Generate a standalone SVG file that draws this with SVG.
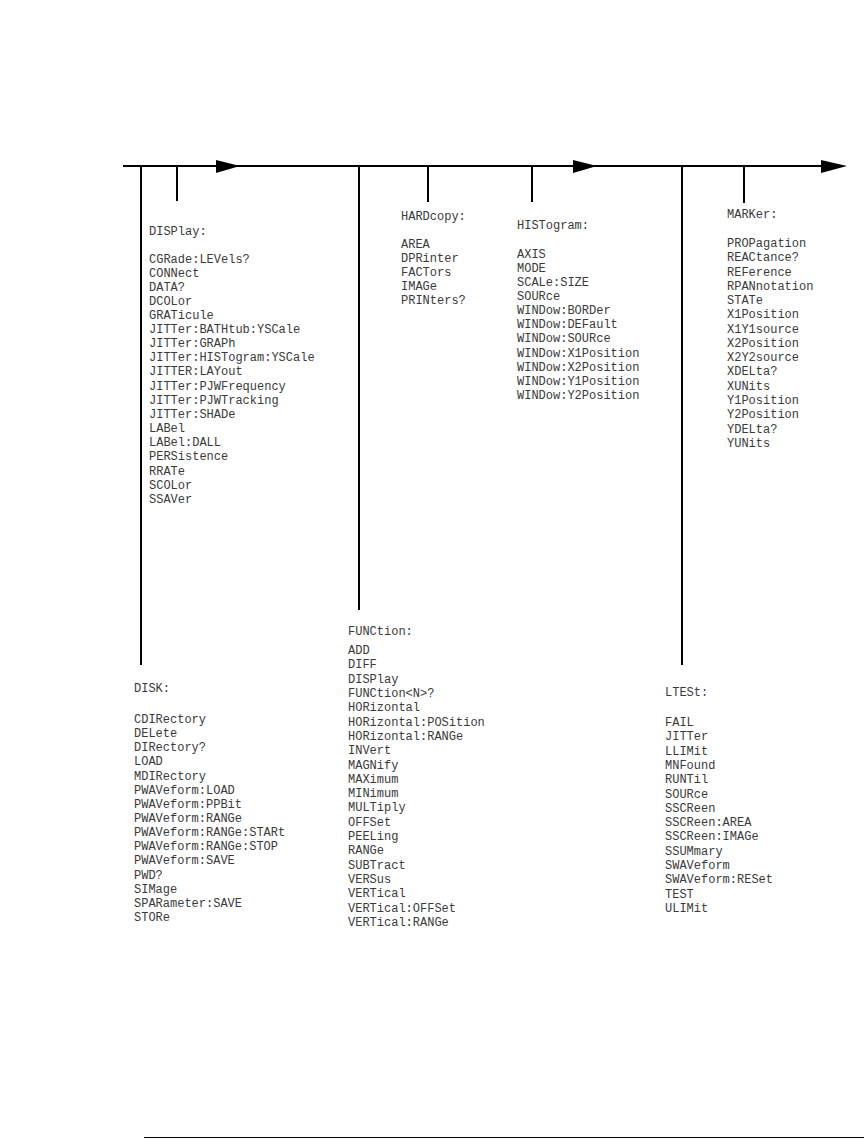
<svg xmlns="http://www.w3.org/2000/svg" width="864" height="1139" viewBox="0 0 864 1139">
<style>
text{font-family:"Liberation Mono","DejaVu Sans Mono",monospace;font-size:12px;fill:#3a3a3a}
.ln{stroke:#000;stroke-width:2;fill:none}
.ah{fill:#000}
</style>
<rect width="864" height="1139" fill="#fff"/>
<g id="connectors">
<line class="ln" x1="123" y1="166" x2="823" y2="166"/>
<polygon class="ah" points="216,160 240,166 216,173"/>
<polygon class="ah" points="573,160 597,166 573,173"/>
<polygon class="ah" points="821,160 847,166 821,173"/>
<line class="ln" x1="141" y1="166" x2="141" y2="665"/>
<line class="ln" x1="177" y1="166" x2="177" y2="201"/>
<line class="ln" x1="359" y1="166" x2="359" y2="610"/>
<line class="ln" x1="428" y1="166" x2="428" y2="202"/>
<line class="ln" x1="532" y1="166" x2="532" y2="202"/>
<line class="ln" x1="682" y1="166" x2="682" y2="665"/>
<line class="ln" x1="744" y1="166" x2="744" y2="203"/>
</g>
<g id="display">
<text x="149" y="235">DISPlay:</text>
<text x="149" y="263">CGRade:LEVels?</text>
<text x="149" y="277">CONNect</text>
<text x="149" y="291">DATA?</text>
<text x="149" y="305">DCOLor</text>
<text x="149" y="319">GRATicule</text>
<text x="149" y="333">JITTer:BATHtub:YSCale</text>
<text x="149" y="347">JITTer:GRAPh</text>
<text x="149" y="361">JITTer:HISTogram:YSCale</text>
<text x="149" y="375">JITTER:LAYout</text>
<text x="149" y="390">JITTer:PJWFrequency</text>
<text x="149" y="404">JITTer:PJWTracking</text>
<text x="149" y="418">JITTer:SHADe</text>
<text x="149" y="432">LABel</text>
<text x="149" y="446">LABel:DALL</text>
<text x="149" y="460">PERSistence</text>
<text x="149" y="475">RRATe</text>
<text x="149" y="489">SCOLor</text>
<text x="149" y="503">SSAVer</text>
</g>
<g id="hardcopy">
<text x="401" y="220">HARDcopy:</text>
<text x="401" y="248">AREA</text>
<text x="401" y="262">DPRinter</text>
<text x="401" y="276">FACTors</text>
<text x="401" y="290">IMAGe</text>
<text x="401" y="304">PRINters?</text>
</g>
<g id="histogram">
<text x="517" y="229">HISTogram:</text>
<text x="517" y="258">AXIS</text>
<text x="517" y="272">MODE</text>
<text x="517" y="286">SCALe:SIZE</text>
<text x="517" y="300">SOURce</text>
<text x="517" y="314">WINDow:BORDer</text>
<text x="517" y="328">WINDow:DEFault</text>
<text x="517" y="342">WINDow:SOURce</text>
<text x="517" y="357">WINDow:X1Position</text>
<text x="517" y="371">WINDow:X2Position</text>
<text x="517" y="385">WINDow:Y1Position</text>
<text x="517" y="399">WINDow:Y2Position</text>
</g>
<g id="marker">
<text x="727" y="218">MARKer:</text>
<text x="727" y="247">PROPagation</text>
<text x="727" y="261">REACtance?</text>
<text x="727" y="276">REFerence</text>
<text x="727" y="290">RPANnotation</text>
<text x="727" y="304">STATe</text>
<text x="727" y="318">X1Position</text>
<text x="727" y="333">X1Y1source</text>
<text x="727" y="347">X2Position</text>
<text x="727" y="361">X2Y2source</text>
<text x="727" y="375">XDELta?</text>
<text x="727" y="390">XUNits</text>
<text x="727" y="404">Y1Position</text>
<text x="727" y="418">Y2Position</text>
<text x="727" y="433">YDELta?</text>
<text x="727" y="447">YUNits</text>
</g>
<g id="function">
<text x="348" y="635">FUNCtion:</text>
<text x="348" y="654">ADD</text>
<text x="348" y="668">DIFF</text>
<text x="348" y="683">DISPlay</text>
<text x="348" y="697">FUNCtion&lt;N&gt;?</text>
<text x="348" y="711">HORizontal</text>
<text x="348" y="726">HORizontal:POSition</text>
<text x="348" y="740">HORizontal:RANGe</text>
<text x="348" y="754">INVert</text>
<text x="348" y="769">MAGNify</text>
<text x="348" y="783">MAXimum</text>
<text x="348" y="797">MINimum</text>
<text x="348" y="811">MULTiply</text>
<text x="348" y="826">OFFSet</text>
<text x="348" y="840">PEELing</text>
<text x="348" y="854">RANGe</text>
<text x="348" y="869">SUBTract</text>
<text x="348" y="883">VERSus</text>
<text x="348" y="897">VERTical</text>
<text x="348" y="912">VERTical:OFFSet</text>
<text x="348" y="926">VERTical:RANGe</text>
</g>
<g id="disk">
<text x="134" y="692">DISK:</text>
<text x="134" y="723">CDIRectory</text>
<text x="134" y="737">DELete</text>
<text x="134" y="751">DIRectory?</text>
<text x="134" y="765">LOAD</text>
<text x="134" y="780">MDIRectory</text>
<text x="134" y="794">PWAVeform:LOAD</text>
<text x="134" y="808">PWAVeform:PPBit</text>
<text x="134" y="822">PWAVeform:RANGe</text>
<text x="134" y="836">PWAVeform:RANGe:STARt</text>
<text x="134" y="850">PWAVeform:RANGe:STOP</text>
<text x="134" y="864">PWAVeform:SAVE</text>
<text x="134" y="879">PWD?</text>
<text x="134" y="893">SIMage</text>
<text x="134" y="907">SPARameter:SAVE</text>
<text x="134" y="921">STORe</text>
</g>
<g id="ltest">
<text x="665" y="696">LTESt:</text>
<text x="665" y="726">FAIL</text>
<text x="665" y="740">JITTer</text>
<text x="665" y="755">LLIMit</text>
<text x="665" y="769">MNFound</text>
<text x="665" y="783">RUNTil</text>
<text x="665" y="798">SOURce</text>
<text x="665" y="812">SSCReen</text>
<text x="665" y="826">SSCReen:AREA</text>
<text x="665" y="840">SSCReen:IMAGe</text>
<text x="665" y="855">SSUMmary</text>
<text x="665" y="869">SWAVeform</text>
<text x="665" y="883">SWAVeform:RESet</text>
<text x="665" y="898">TEST</text>
<text x="665" y="912">ULIMit</text>
</g>
<line x1="144" y1="1137.5" x2="864" y2="1137.5" stroke="#000" stroke-width="1"/>
</svg>
